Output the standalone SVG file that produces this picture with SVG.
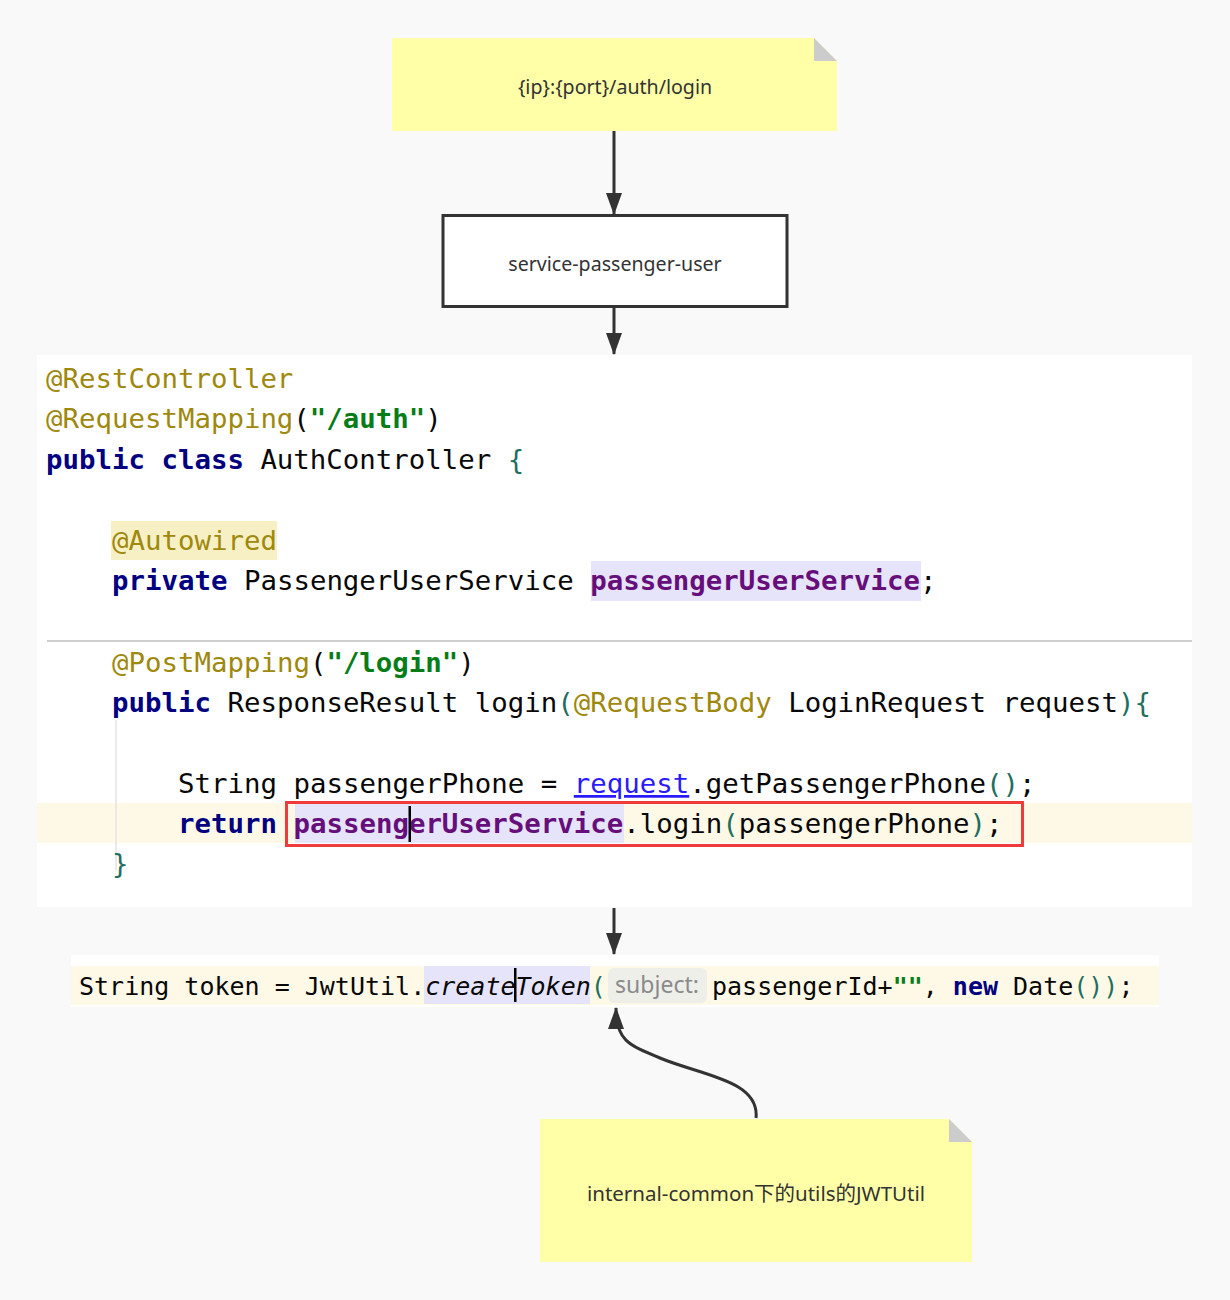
<svg xmlns="http://www.w3.org/2000/svg" width="1230" height="1300" viewBox="0 0 1230 1300">
<style>
.bg{fill:#f9f9f9}
.note{fill:#ffffa8}
.fold{fill:#cccccc}
.lbl{font-family:"Noto Sans","Open Sans","Noto Sans CJK SC",sans-serif;font-size:19.6px;fill:#333;text-anchor:middle}
.code{font-family:"DejaVu Sans Mono","Liberation Mono",monospace;font-size:27.4px;fill:#080808;white-space:pre}
.code2{font-family:"DejaVu Sans Mono","Liberation Mono",monospace;font-size:25px;fill:#080808;white-space:pre}
.ann{fill:#9e880d}
.kw{font-weight:bold;fill:#000080}
.str{fill:#067d17;font-weight:bold}
.fld{font-weight:bold;fill:#660e7a}
.br{fill:#1f6f5f}
.lnk{fill:#2a1aff;text-decoration:underline}
.conn{stroke:#333;stroke-width:3;fill:none}
</style>
<defs>
<marker id="ah" markerUnits="userSpaceOnUse" markerWidth="22" markerHeight="16" refX="21" refY="8" orient="auto">
<path d="M0,0 L22,8 L0,16 z" fill="#333"/>
</marker>
</defs>
<rect class="bg" x="0" y="0" width="1230" height="1300"/>

<g id="note-url">
<path class="note" d="M392,38 H814 L837,61 V131 H392 Z"/>
<path class="fold" d="M814,38 L837,61 H814 Z"/>
<text class="lbl" x="615" y="94">{ip}:{port}/auth/login</text>
</g>

<g id="service-passenger-user">
<rect x="443" y="215.5" width="344" height="91" fill="#fff" stroke="#333" stroke-width="3"/>
<text class="lbl" x="615" y="271">service-passenger-user</text>
</g>

<g id="auth-controller-code">
<rect x="37" y="355" width="1155" height="552" fill="#ffffff"/>
<line x1="47" y1="641" x2="1192" y2="641" stroke="#cfcfcf" stroke-width="2"/>
<rect x="37" y="803" width="1155" height="40" fill="#fdf9e6"/>
<rect x="111" y="521" width="166" height="39" fill="#f7f0c4"/>
<rect x="591" y="561" width="330" height="40" fill="#e6e4fb"/>
<rect x="295" y="804" width="329" height="39" fill="#e6e4fb"/>
<line x1="116" y1="720" x2="116" y2="870" stroke="#e3e3e3" stroke-width="1.5"/>
<text class="code" x="46" y="388"><tspan class="ann">@RestController</tspan></text>
<text class="code" x="46" y="428"><tspan class="ann">@RequestMapping</tspan>(<tspan class="str">"/auth"</tspan>)</text>
<text class="code" x="46" y="469"><tspan class="kw">public class</tspan> AuthController <tspan class="br">{</tspan></text>
<text class="code" x="112" y="550"><tspan class="ann">@Autowired</tspan></text>
<text class="code" x="112" y="590"><tspan class="kw">private</tspan> PassengerUserService <tspan class="fld">passengerUserService</tspan>;</text>
<text class="code" x="112" y="672"><tspan class="ann">@PostMapping</tspan>(<tspan class="str">"/login"</tspan>)</text>
<text class="code" x="112" y="712"><tspan class="kw">public</tspan> ResponseResult login<tspan class="br">(</tspan><tspan class="ann">@RequestBody</tspan> LoginRequest request<tspan class="br">){</tspan></text>
<text class="code" x="178" y="793">String passengerPhone = <tspan class="lnk">request</tspan>.getPassengerPhone<tspan class="br">()</tspan>;</text>
<text class="code" x="178" y="833"><tspan class="kw">return</tspan> <tspan class="fld">passengerUserService</tspan>.login<tspan class="br">(</tspan>passengerPhone<tspan class="br">)</tspan>;</text>
<text class="code" x="112" y="873"><tspan class="br">}</tspan></text>
<rect x="408.5" y="806" width="2.5" height="36" fill="#000"/>
<rect x="286.5" y="802.5" width="736" height="43" fill="none" stroke="#ef3b3b" stroke-width="3"/>
</g>

<g id="jwt-code">
<rect x="71" y="955" width="1088" height="52" fill="#ffffff"/>
<rect x="71" y="966" width="1088" height="39" fill="#fdf9e6"/>
<rect x="424" y="966" width="166" height="38" fill="#e6e4fb"/>
<text class="code2" x="79" y="995">String token = JwtUtil.<tspan font-style="italic">createToken</tspan><tspan class="br">(</tspan></text>
<rect x="514" y="968" width="2.5" height="34" fill="#000"/>
<rect x="608" y="968" width="99" height="35" rx="6" fill="#efefea"/>
<text x="657" y="993" font-family="'Noto Sans','Open Sans',sans-serif" font-size="23" fill="#8a8a8a" text-anchor="middle">subject:</text>
<text class="code2" x="712" y="995">passengerId+<tspan class="str">""</tspan>, <tspan class="kw">new</tspan> Date<tspan class="br">())</tspan>;</text>
</g>

<g id="note-jwtutil">
<path class="note" d="M540,1119 H949 L972,1142 V1262 H540 Z"/>
<path class="fold" d="M949,1119 L972,1142 H949 Z"/>
<text class="lbl" x="756" y="1201" style="font-size:20.5px">internal-common下的utils的JWTUtil</text>
</g>

<g id="connectors">
<path class="conn" d="M614,131 V214" marker-end="url(#ah)"/>
<path class="conn" d="M614,307 V354" marker-end="url(#ah)"/>
<path class="conn" d="M614,908 V954" marker-end="url(#ah)"/>
<path class="conn" d="M756,1118 C760,1080 700,1075 660,1058 C628,1045 616,1040 616,1008" marker-end="url(#ah)"/>
</g>
</svg>
